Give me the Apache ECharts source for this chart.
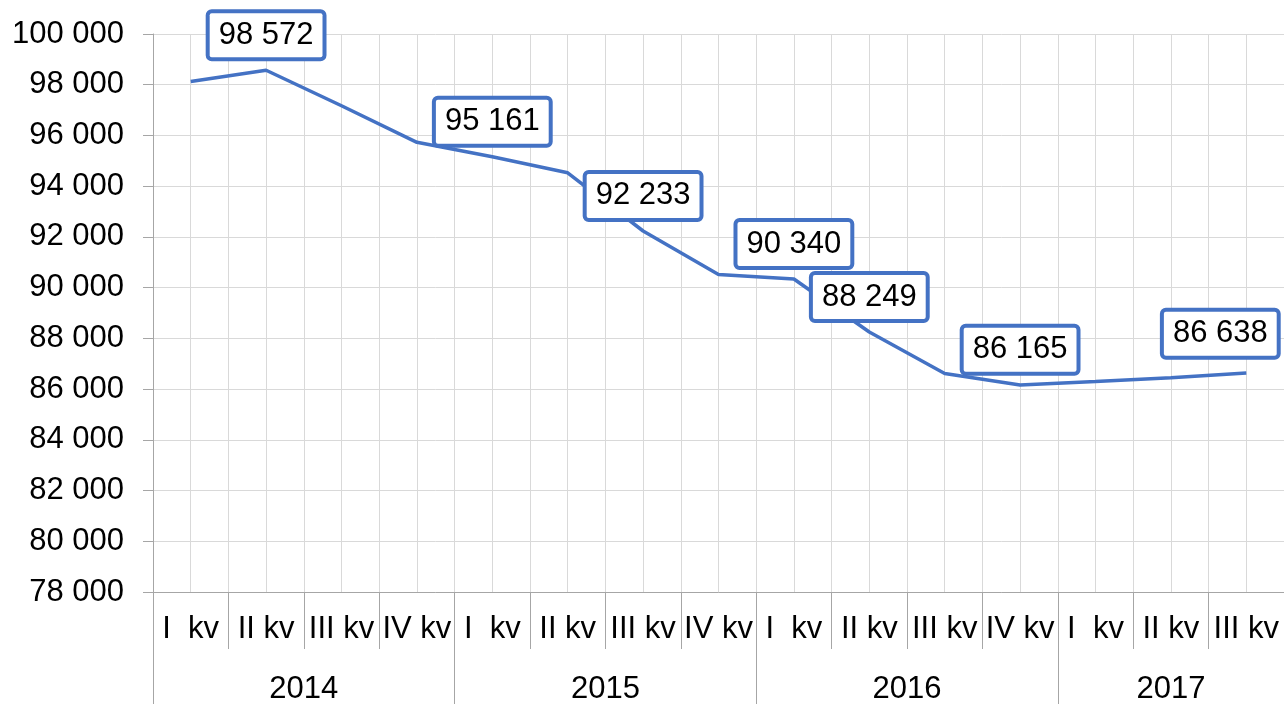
<!DOCTYPE html>
<html>
<head>
<meta charset="utf-8">
<script src="https://cdn.jsdelivr.net/npm/echarts@6/dist/echarts.min.js"></script>
<style>
  html, body { margin: 0; padding: 0; background: #fff; }
  #chart { width: 1284px; height: 705px; }
</style>
</head>
<body>
<div id="chart"></div>
<script>
// quarters along the axis
var quarters = ['I  kv', 'II kv', 'III kv', 'IV kv',
                'I  kv', 'II kv', 'III kv', 'IV kv',
                'I  kv', 'II kv', 'III kv', 'IV kv',
                'I  kv', 'II kv', 'III kv'];
var years = ['2014', '2015', '2016', '2017'];
var quartersPerYear = [4, 4, 4, 3];
var values = [98126, 98572, 97170, 95730, 95161, 94527, 92233, 90520,
              90340, 88249, 86615, 86165, 86300, 86450, 86638];
// points that carry a value box
var labeledPoints = [1, 4, 6, 8, 9, 11, 14];
var yTicks = [78000, 80000, 82000, 84000, 86000, 88000, 90000, 92000,
              94000, 96000, 98000, 100000];

function fmt(v) {
  return String(v).replace(/\B(?=(\d{3})+(?!\d))/g, ' ');
}

// year group edges and middles (in quarter units)
var yearEdges = [0], yearMids = [];
quartersPerYear.forEach(function (n, i) {
  var start = yearEdges[i];
  yearEdges.push(start + n);
  yearMids.push(start + n / 2);
});

var seriesData = values.map(function (v, i) {
  var item = { value: v };
  if (labeledPoints.indexOf(i) >= 0) {
    item.label = { show: true };
    if (i === values.length - 1) item.label.offset = [-26, -4];
  }
  return item;
});

var axisGray = '#a6a6a6';
var gridGray = '#d9d9d9';
var font = 'Liberation Sans, Arial, sans-serif';

var myChart = echarts.init(document.getElementById('chart'));
var option = {
  animation: false,
  grid: { left: 153, right: -1, top: 34, bottom: 111, containLabel: false },
  xAxis: [
    {
      type: 'category',
      position: 'bottom',
      data: quarters,
      boundaryGap: true,
      axisLine: { show: true, lineStyle: { color: axisGray, width: 1 } },
      axisTick: { show: true, interval: 0, length: 57, lineStyle: { color: axisGray, width: 1 } },
      axisLabel: { interval: 0, margin: 22, fontSize: 31, color: '#000', fontFamily: font },
      splitLine: { show: false }
    },
    {
      type: 'value',
      position: 'bottom',
      min: 0, max: quarters.length,
      axisLine: { show: false },
      axisTick: { show: true, customValues: yearEdges, length: 112, lineStyle: { color: axisGray } },
      axisLabel: {
        show: true, customValues: yearMids, margin: 82, fontSize: 31, color: '#000', fontFamily: font,
        formatter: function (v) {
          var k = yearMids.indexOf(v);
          return k >= 0 ? years[k] : '';
        }
      },
      splitLine: { show: false }
    },
    {
      type: 'value',
      position: 'bottom',
      min: 0, max: quarters.length, interval: 0.5,
      axisLine: { show: false },
      axisTick: { show: false },
      axisLabel: { show: false },
      splitLine: { show: true, lineStyle: { color: gridGray, width: 1 } }
    }
  ],
  yAxis: {
    type: 'value',
    min: yTicks[0], max: yTicks[yTicks.length - 1], interval: 2000,
    axisLine: { show: true, lineStyle: { color: axisGray } },
    axisTick: { show: true, length: 10, lineStyle: { color: axisGray } },
    axisLabel: { margin: 29, fontSize: 31, color: '#000', fontFamily: font, formatter: fmt },
    splitLine: { lineStyle: { color: gridGray, width: 1 } }
  },
  series: [{
    type: 'line',
    xAxisIndex: 0,
    data: seriesData,
    symbol: 'circle',
    symbolSize: 0.1,
    showSymbol: true,
    showAllSymbol: true,
    lineStyle: { color: '#4472c4', width: 3.5 },
    itemStyle: { color: '#4472c4' },
    label: {
      show: false,
      position: 'top',
      distance: 13,
      formatter: function (p) { return fmt(p.value); },
      fontSize: 31,
      fontFamily: font,
      color: '#000',
      backgroundColor: '#fff',
      borderColor: '#4472c4',
      borderWidth: 4,
      borderRadius: 2,
      lineHeight: 34,
      padding: [5, 9]
    }
  }]
};
myChart.setOption(option);
</script>
</body>
</html>
